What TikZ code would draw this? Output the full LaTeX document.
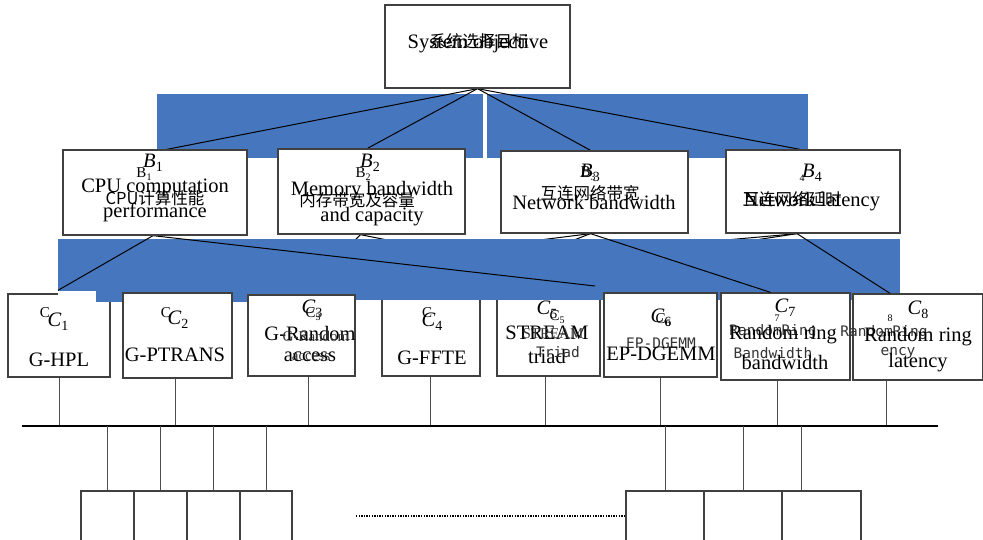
\documentclass[tikz,border=0pt]{standalone}
\usepackage{fontspec}
\setmainfont{Liberation Serif}
\newfontfamily\cjkfont{Noto Sans CJK SC}
\newfontfamily\monofnt{DejaVu Sans Mono}
\usetikzlibrary{calc}
\definecolor{bandblue}{HTML}{4677BE}
\newcommand\ilab[2]{\textit{#1}\raisebox{-0.2em}{\fontsize{14}{14}\selectfont #2}}
\newcommand\slab[2]{#1\raisebox{-0.25em}{\fontsize{10}{10}\selectfont #2}}
\begin{document}
\begin{tikzpicture}[x=1pt,y=-1pt,
  box/.style={draw=black!75, line width=1.3pt, fill=white, inner sep=0pt},
  conn/.style={draw=black, line width=1pt},
  thin/.style={draw=black!70, line width=0.9pt},
  en/.style={font=\fontsize{20.5}{23}\selectfont, inner sep=0pt},
  zh/.style={font=\cjkfont\fontsize{16.5}{18}\selectfont, inner sep=0pt},
  sm/.style={font=\fontsize{15}{16}\selectfont, inner sep=0pt},
  mono/.style={font=\monofnt\fontsize{14.5}{15}\selectfont, inner sep=0pt, text=black!80},
  it/.style={font=\fontsize{20.5}{23}\selectfont, inner sep=0pt}]
\useasboundingbox (0,0) rectangle (983,540);

% boxes of level B and top (defined first for hidden connectors)
\node[box, minimum width=185pt, minimum height=83pt] (top) at (477.5,46.5) {};
\node[box, minimum width=184pt, minimum height=85pt] (b1) at (155,192.5) {};
\node[box, minimum width=187pt, minimum height=85pt] (b2) at (371.5,191.5) {};
\node[box, minimum width=187pt, minimum height=82pt] (b3) at (594.5,192) {};
\node[box, minimum width=174pt, minimum height=83pt] (b4) at (813,191.5) {};

% hidden connectors (under the blue band)
\draw[conn] ([xshift=-11pt]b2.south) -- +(-40,40);
\draw[conn] ([xshift=-11pt]b2.south) -- +(160,32);
\draw[conn] ([xshift=-4pt]b3.south) -- +(-320,40);
\draw[conn] ([xshift=-4pt]b3.south) -- +(-104,40);
\draw[conn] ([xshift=-16pt]b4.south) -- +(-448,40);
\draw[conn] ([xshift=-16pt]b4.south) -- +(-264,40);

% C boxes partly covered by the band
\node[box, minimum width=102pt, minimum height=83pt] (c1) at (59,335.5) {};
\node[box, minimum width=98pt, minimum height=79pt] (c4) at (431,336.5) {};
\node[box, minimum width=103pt, minimum height=77pt] (c5) at (548.5,337.5) {};

% blue bands
\fill[bandblue] (157,94) rectangle (483,158);
\fill[bandblue] (487,94) rectangle (808,158);
\fill[bandblue] (58,239) rectangle (900,300);
\fill[bandblue] (96,300) rectangle (262,301.5);
\fill[white] (58,291) rectangle (96,301);

% visible connectors
\draw[conn] (top.south) -- ([xshift=12pt]b1.north);
\draw[conn] (top.south) -- ([xshift=-4pt]b2.north);
\draw[conn] (top.south) -- ([xshift=-4pt]b3.north);
\draw[conn] (top.south) -- ([xshift=-13pt]b4.north);
\coordinate (free1) at (595,286);
\draw[conn] ([xshift=-2pt]b1.south) -- ([xshift=-1pt,yshift=3pt]c1.north);
\draw[conn] ([xshift=-2pt]b1.south) -- (free1);

% remaining boxes on top
\node[box, minimum width=185pt, minimum height=83pt] at (top) {};
\node[box, minimum width=184pt, minimum height=85pt] at (b1) {};
\node[box, minimum width=187pt, minimum height=85pt] at (b2) {};
\node[box, minimum width=187pt, minimum height=82pt] at (b3) {};
\node[box, minimum width=174pt, minimum height=83pt] at (b4) {};
\node[box, minimum width=109pt, minimum height=85pt] (c2) at (177.5,335.5) {};
\node[box, minimum width=107pt, minimum height=81pt] (c3) at (301.5,335.5) {};
\node[box, minimum width=113pt, minimum height=84pt] (c6) at (660.5,335) {};
\node[box, minimum width=129pt, minimum height=87pt] (c7) at (785.5,336.5) {};
\node[box, minimum width=130pt, minimum height=86pt] (c8) at (918,337) {};

\draw[conn] ([xshift=-4pt]b3.south) -- ([xshift=-15pt]c7.north);
\draw[conn] ([xshift=-16pt]b4.south) -- ([xshift=-28pt]c8.north);

% texts: top
\node[en] (t0e) at (478,44) {System objective};
\node[zh] (t0z) at (479,41) {系统选择目标};
% B1
\node[it] (t1i) at (153,163) {\ilab{B}{1}};
\node[sm] (t1s) at (144,174) {\slab{B}{1}};
\node[en] (t1e) at (155,188) {CPU computation};
\node[zh] (t1z) at (155,198) {CPU计算性能};
\node[en] (t1f) at (155,212) {performance};
% B2
\node[it] (t2i) at (370,163) {\ilab{B}{2}};
\node[sm] (t2s) at (363,174) {\slab{B}{2}};
\node[en] (t2e) at (372,191) {Memory bandwidth};
\node[zh] (t2z) at (357,200) {内存带宽及容量};
\node[en] (t2f) at (372,217) {and capacity};
% B3
\node[it] (t3i) at (590,173) {\ilab{B}{3}};
\node[sm] (t3s) at (588,174) {\slab{B}{3}};
\node[zh] (t3z) at (590,193) {互连网络带宽};
\node[en] (t3e) at (594,202) {Network bandwidth};
% B4
\node[it] (t4i) at (812,173) {\ilab{B}{4}};
\node[sm] (t4s) at (802,178) {\fontsize{10}{10}\selectfont 4};
\node[zh] (t4z) at (792,199) {互连网络延时};
\node[en] (t4e) at (812,202) {Network latency};
% C1
\node[sm] (u1s) at (45,313) {C};
\node[it] (u1i) at (58,322) {\ilab{C}{1}};
\node[en] (u1e) at (59,360) {G-HPL};
% C2
\node[sm] (u2s) at (166,313) {C};
\node[it] (u2i) at (178,320) {\ilab{C}{2}};
\node[en] (u2e) at (175,355) {G-PTRANS};
% C3
\node[it] (u3i) at (312,309) {\ilab{C}{3}};
\node[sm] (u3s) at (313,314) {\slab{C}{3}};
\node[en] (u3e) at (310,333) {G-Random};
\node[sm, text=black!80] (u3m) at (316,336) {G-Random};
\node[en] (u3f) at (310,357) {access};
\node[sm, text=black!80] (u3g) at (311,357) {access};
% C4
\node[sm] (u4s) at (427,313) {C};
\node[it] (u4i) at (432,322) {\ilab{C}{4}};
\node[en] (u4e) at (432,358) {G-FFTE};
% C5
\node[it] (u5i) at (547,310) {\ilab{C}{5}};
\node[sm] (u5s) at (557,317) {\slab{C}{5}};
\node[en] (u5e) at (547,333) {STREAM};
\node[sm, text=black!80] (u5m) at (553,334) {STREAM};
\node[en] (u5f) at (547,356) {triad};
\node[mono] (u5g) at (558,352) {Triad};
% C6
\node[it] (u6i) at (661,318) {\ilab{C}{6}};
\node[sm] (u6s) at (663,320) {\slab{C}{6}};
\node[mono] (u6m) at (661,343) {EP-DGEMM};
\node[en] (u6e) at (661,354) {EP-DGEMM};
% C7
\node[it] (u7i) at (785,308) {\ilab{C}{7}};
\node[sm] (u7s) at (777,318) {\fontsize{10}{10}\selectfont 7};
\node[mono] (u7m) at (773,332) {RandomRing};
\node[en] (u7e) at (783,335) {Random ring};
\node[mono] (u7n) at (773,353) {Bandwidth};
\node[en] (u7f) at (785,362) {bandwidth};
% C8
\node[it] (u8i) at (918,310) {\ilab{C}{8}};
\node[sm] (u8s) at (890,318) {\fontsize{10}{10}\selectfont 8};
\node[mono] (u8m) at (884,333) {RandomRing};
\node[en] (u8e) at (918,337) {Random ring};
\node[mono] (u8n) at (898,353) {ency};
\node[en] (u8f) at (918,363) {latency};

% bus
\coordinate (busL) at (22,426);
\coordinate (busR) at (938,426);
\draw[thin] (c1.south) -- (c1.south |- busL);
\draw[thin] ([xshift=-2.5pt]c2.south) -- ([xshift=-2.5pt]c2.south |- busL);
\draw[thin] ([xshift=6.5pt]c3.south) -- ([xshift=6.5pt]c3.south |- busL);
\draw[thin] ([xshift=-1pt]c4.south) -- ([xshift=-1pt]c4.south |- busL);
\draw[thin] ([xshift=-3.5pt]c5.south) -- ([xshift=-3.5pt]c5.south |- busL);
\draw[thin] (c6.south) -- (c6.south |- busL);
\draw[thin] ([xshift=-8.5pt]c7.south) -- ([xshift=-8.5pt]c7.south |- busL);
\draw[thin] ([xshift=-32pt]c8.south) -- ([xshift=-32pt]c8.south |- busL);
\draw[black, line width=1.6pt] (busL) -- (busR);

% bottom boxes
\node[box, minimum width=53pt, minimum height=58pt] (d1) at (107.5,520) {};
\node[box, minimum width=53pt, minimum height=58pt] (d2) at (160.5,520) {};
\node[box, minimum width=53pt, minimum height=58pt] (d3) at (213.5,520) {};
\node[box, minimum width=52pt, minimum height=58pt] (d4) at (266,520) {};
\node[box, minimum width=78pt, minimum height=58pt] (e1) at (665,520) {};
\node[box, minimum width=78pt, minimum height=58pt] (e2) at (743,520) {};
\node[box, minimum width=79pt, minimum height=58pt] (e3) at (821.5,520) {};
\foreach \n in {d1,d2,d3,d4,e1,e2}
  \draw[thin] (\n.north |- busL) -- (\n.north);
\draw[thin] ([xshift=-20.5pt]e3.north |- busL) -- ([xshift=-20.5pt]e3.north);

% dotted line
\coordinate (dotL) at (356,516);
\coordinate (dotR) at (624,516);
\draw[black, line width=1.4pt, dash pattern=on 1.3pt off 1.3pt] (dotL) -- (dotR);
\end{tikzpicture}
\end{document}
